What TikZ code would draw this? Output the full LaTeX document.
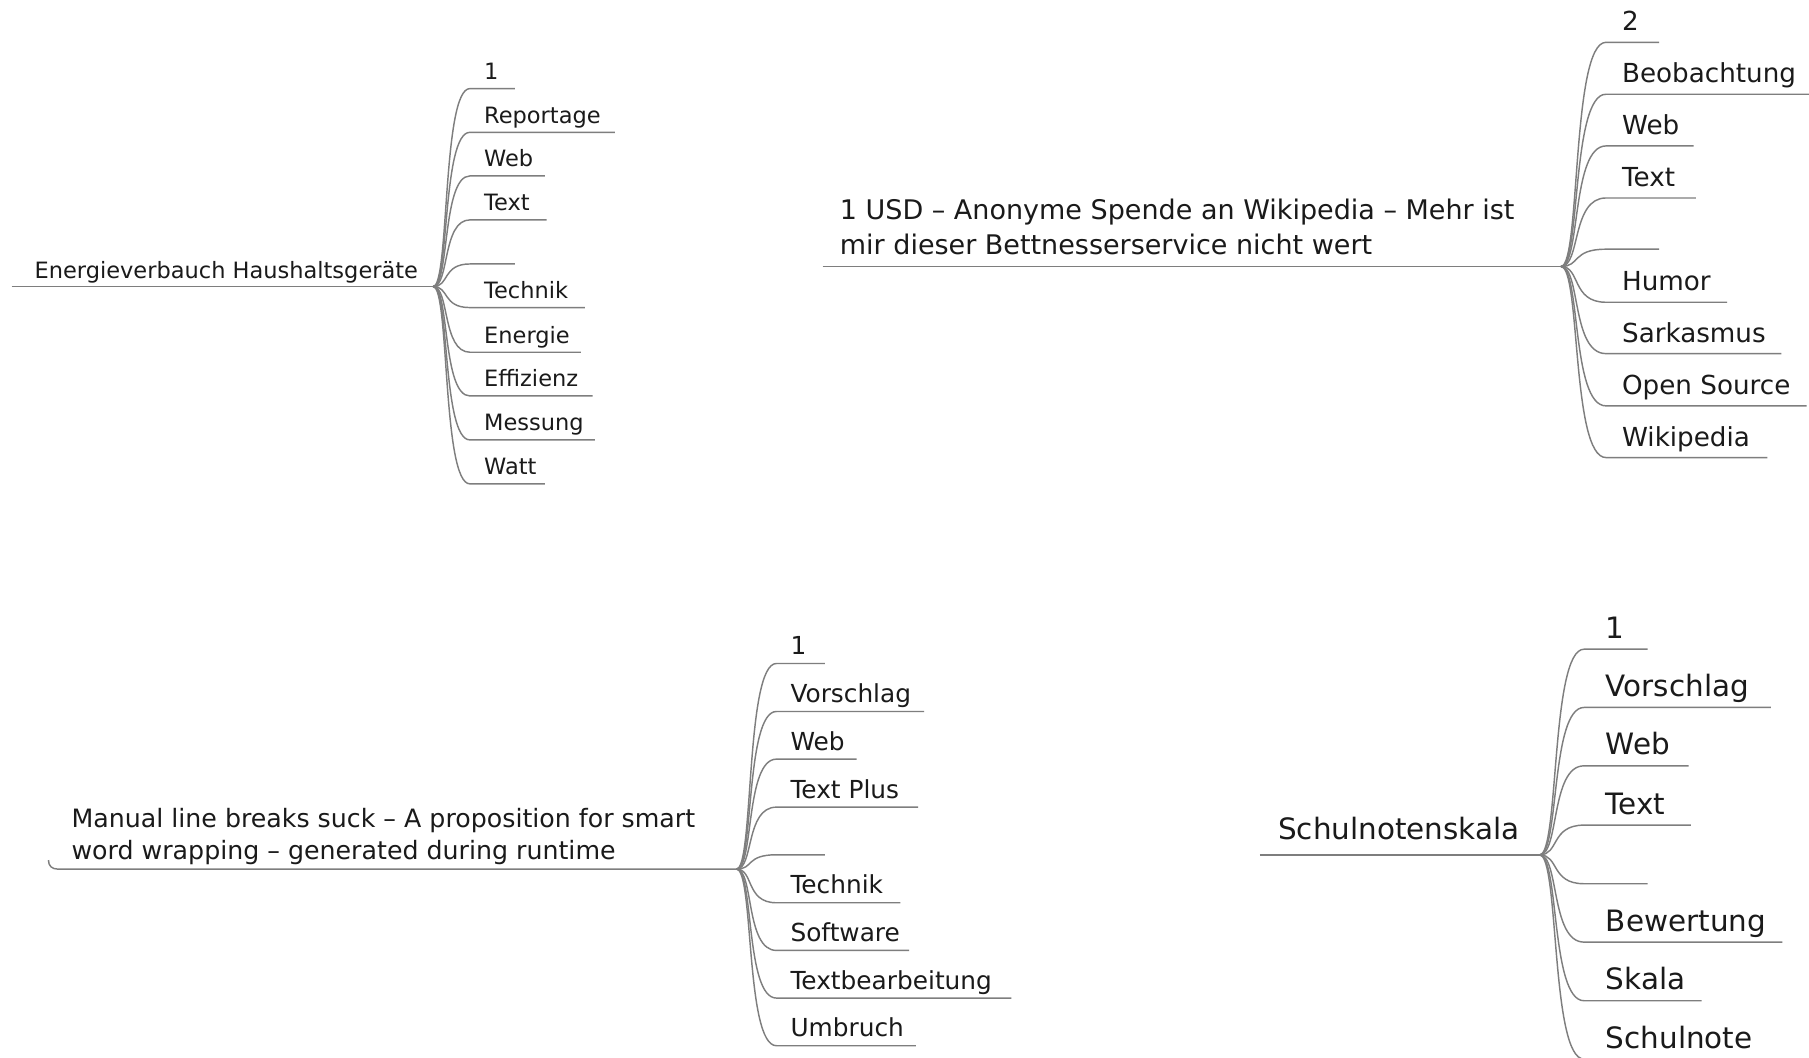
\documentclass[tikz,border=0pt]{standalone}
\usepackage{fontspec}
\setmainfont{DejaVu Sans}
\definecolor{edgec}{HTML}{7E7E7E}
\definecolor{txtc}{HTML}{1A1A1A}
\begin{document}
\begin{tikzpicture}[x=1pt,y=-1pt,
  edge/.style={draw=edgec,line width=1.25pt},
  lbl/.style={anchor=base west,inner sep=0pt,outer sep=0pt,text=txtc},
  fA/.style={font=\fontsize{19.5}{23}\selectfont},
  fB/.style={font=\fontsize{22.7}{27}\selectfont},
  fBr/.style={font=\fontsize{23.4}{28}\selectfont},
  fC/.style={font=\fontsize{21.5}{26}\selectfont},
  fCr/.style={font=\fontsize{21.9}{26}\selectfont},
  fD/.style={font=\fontsize{25.5}{30}\selectfont}]
\useasboundingbox[fill=white] (0,0) rectangle (1568,917);

% ---------- Tree A (top left)
\coordinate (A-hub) at (375.5,248.4);
\coordinate (A-root) at (10,248.4);
\node[lbl,fA] (A-rt) at (30,241) {Energieverbauch Haushaltsgeräte};
\draw[edge] (A-root) -- (A-hub);
\foreach \i/\y/\xe/\txt in {1/76.8/446.3/1, 2/114.7/533/Reportage, 3/152.5/472.3/Web,
  4/190.6/473.7/Text, 5/228.8/446.3/{}, 6/266.6/507/Technik, 7/305.3/503.5/Energie,
  8/343.2/513.6/Effizienz, 9/381.3/515.6/Messung, 10/419.4/472.3/Watt}{
  \coordinate (A-s\i) at (407.3,\y);
  \coordinate (A-e\i) at (\xe,\y);
  \node[lbl,fA] (A-t\i) at (419.7,\y-7.8) {\txt};
  \draw[edge] (A-hub) .. controls +(14,0) and +(-24,0) .. (A-s\i) -- (A-e\i);
}

% ---------- Tree B (top right)
\coordinate (B-hub) at (1353,231);
\coordinate (B-root) at (713,231);
\node[lbl,fBr] (B-r1) at (728,190.6) {1 USD – Anonyme Spende an Wikipedia – Mehr ist};
\node[lbl,fBr] (B-r2) at (728,221) {mir dieser Bettnesserservice nicht wert};
\draw[edge] (B-root) -- (B-hub);
\foreach \i/\y/\xe/\txt in {1/36.7/1438/2, 2/81.7/1575/Beobachtung, 3/126.5/1468/Web,
  4/171.6/1470/Text, 5/216/1438/{}, 6/262/1497/Humor, 7/306.5/1544/Sarkasmus,
  8/351.8/1566/Open Source, 9/396.6/1532/Wikipedia}{
  \coordinate (B-s\i) at (1392,\y);
  \coordinate (B-e\i) at (\xe,\y);
  \node[lbl,fB] (B-t\i) at (1406,\y-10) {\txt};
  \draw[edge] (B-hub) .. controls +(17,0) and +(-30,0) .. (B-s\i) -- (B-e\i);
}

% ---------- Tree C (bottom left)
\coordinate (C-hub) at (638.4,753.3);
\coordinate (C-root) at (42,745.5);
\coordinate (C-rc) at (50,753.3);
\node[lbl,fCr] (C-r1) at (62,717) {Manual line breaks suck – A proposition for smart};
\node[lbl,fCr] (C-r2) at (62,745) {word wrapping – generated during runtime};
\draw[edge] (C-root) .. controls +(0,5) and +(-5,0) .. (C-rc) -- (C-hub);
\foreach \i/\y/\xe/\txt in {1/575.1/714.9/1, 2/616.7/801/Vorschlag, 3/658/742.4/Web,
  4/699.6/795.8/Text Plus, 5/740.9/714.9/{}, 6/782.5/780.5/Technik, 7/823.8/788/Software,
  8/865.1/876.7/Textbearbeitung, 9/906.4/793.8/Umbruch}{
  \coordinate (C-s\i) at (673,\y);
  \coordinate (C-e\i) at (\xe,\y);
  \node[lbl,fC] (C-t\i) at (685.2,\y-7.8) {\txt};
  \draw[edge] (C-hub) .. controls +(15,0) and +(-27,0) .. (C-s\i) -- (C-e\i);
}

% ---------- Tree D (bottom right)
\coordinate (D-hub) at (1334.5,741);
\coordinate (D-root) at (1092,741);
\node[lbl,fD] (D-rt) at (1108,728) {Schulnotenskala};
\draw[edge] (D-root) -- (D-hub);
\foreach \i/\y/\xe/\txt in {1/562.7/1428/1, 2/613.2/1535/Vorschlag, 3/663.8/1463.6/Web,
  4/715.2/1465.6/Text, 5/766/1428/{}, 6/816.6/1544.8/Bewertung, 7/867.4/1475/Skala,
  8/918/1530/Schulnote}{
  \coordinate (D-s\i) at (1373,\y);
  \coordinate (D-e\i) at (\xe,\y);
  \node[lbl,fD] (D-t\i) at (1392,\y-9.5) {\txt};
  \draw[edge] (D-hub) .. controls +(17,0) and +(-29,0) .. (D-s\i) -- (D-e\i);
}
\end{tikzpicture}
\end{document}
